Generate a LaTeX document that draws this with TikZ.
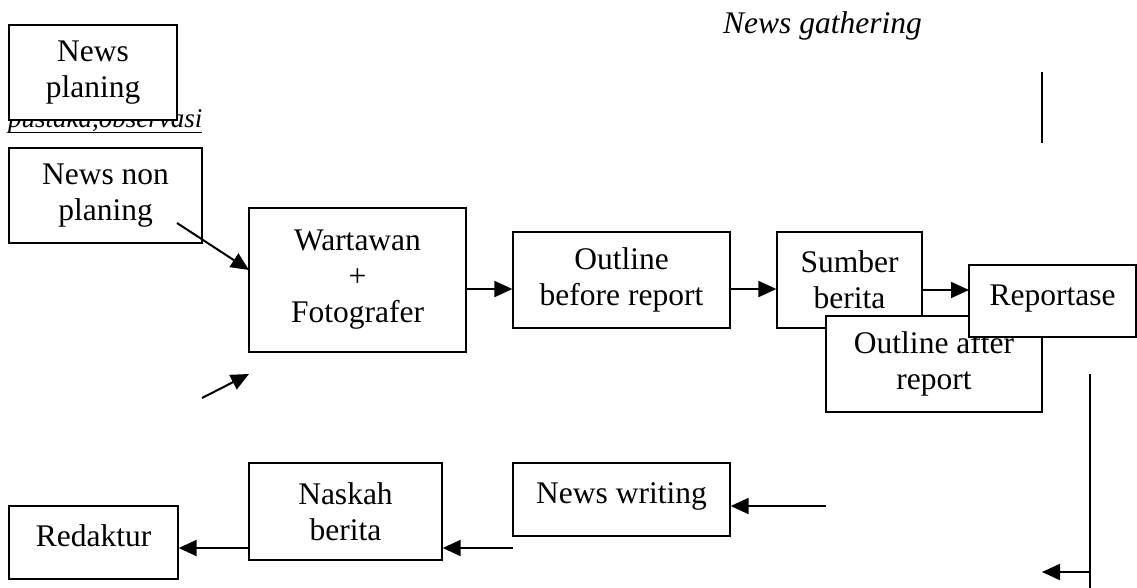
\documentclass[tikz,border=0pt]{standalone}
\usepackage{fontspec}
\setmainfont{Liberation Serif}
\usetikzlibrary{arrows.meta}
% underline with a fixed offset below the baseline
\newcommand\myuline[1]{\setbox0\hbox{#1}\rlap{\rule[-6pt]{\wd0}{1pt}}\box0}
\begin{document}
\begin{tikzpicture}[x=1pt,y=-1pt,
  box/.style={draw,line width=1.3pt,fill=white,inner sep=0pt,align=center,
    font=\fontsize{31.5}{36}\selectfont},
  oneline/.style={text height=20pt,text depth=12pt},
  link/.style={line width=2pt,-{Triangle[length=18pt,width=16pt]}},
  bare/.style={line width=2pt},
  lbl/.style={inner sep=0pt,font=\fontsize{31.5}{36}\selectfont\itshape}]
\useasboundingbox (0,0) rectangle (1137,587);
\clip (0,0) rectangle (1137,587);

% titles
\node[lbl,anchor=base west] (title) at (723,33) {News gathering};
\node[inner sep=0pt,anchor=base west,font=\fontsize{27}{32}\selectfont\itshape]
  (src) at (8,127) {\myuline{pustaka,observasi}};

% left column
\node[box,minimum width=168pt,minimum height=95pt] (plan) at (93,72.5) {News\\planing};
\node[box,minimum width=193pt,minimum height=95pt] (nonplan) at (105.5,195.5) {News non\\planing};

% upper row
\node[box,minimum width=217pt,minimum height=144pt] (wart) at (357.5,280) {Wartawan\\+\\Fotografer};
\node[box,minimum width=217pt,minimum height=96pt] (outb) at (621.5,280) {Outline\\before report};
\node[box,minimum width=145pt,minimum height=96pt] (sumber) at (849.5,280) {Sumber\\berita};
\node[box,minimum width=216pt,minimum height=96pt] (outa) at (934,364) {Outline after\\report};
\draw[link] ([yshift=-10pt]sumber.east) -- ([yshift=-10pt]sumber.east -| 969,0);
\node[box,oneline,minimum width=167pt,minimum height=72pt] (rep) at (1052.5,301) {Reportase};

% lower row
\node[box,oneline,minimum width=217pt,minimum height=73pt] (write) at (621.5,499.5) {News writing};
\node[box,minimum width=193pt,minimum height=97pt] (naskah) at (345.5,511.5) {Naskah\\berita};
\node[box,oneline,minimum width=169pt,minimum height=73pt] (redaktur) at (93.5,542.5) {Redaktur};

% free line ends
\coordinate (n1) at (177,223);
\coordinate (n2) at (249,270);
\coordinate (p1) at (202,398);
\coordinate (p2) at (249,374);
\coordinate (v1) at (1042,72);
\coordinate (v2) at (1042,143);
\coordinate (r1) at (1090,374);
\coordinate (r2) at (1090,590);
\coordinate (r3) at (1090,572);
\coordinate (r4) at (1042,572);
\coordinate (w1) at (826,506);
\coordinate (k1) at (513,548);

% connectors
\draw[link] (n1) -- (n2);
\draw[link] (p1) -- (p2);
\draw[link] ([yshift=-9pt]wart.east) -- ([yshift=-9pt]outb.west);
\draw[link] ([yshift=-9pt]outb.east) -- ([yshift=-9pt]sumber.west);
\draw[bare] (v1) -- (v2);
\draw[bare] (r1) -- (r2);
\draw[link] (r3) -- (r4);
\draw[link] (w1) -- (w1 -| write.east);
\draw[link] (k1) -- (k1 -| naskah.east);
\draw[link] (k1 -| naskah.west) -- (k1 -| redaktur.east);
\end{tikzpicture}
\end{document}
